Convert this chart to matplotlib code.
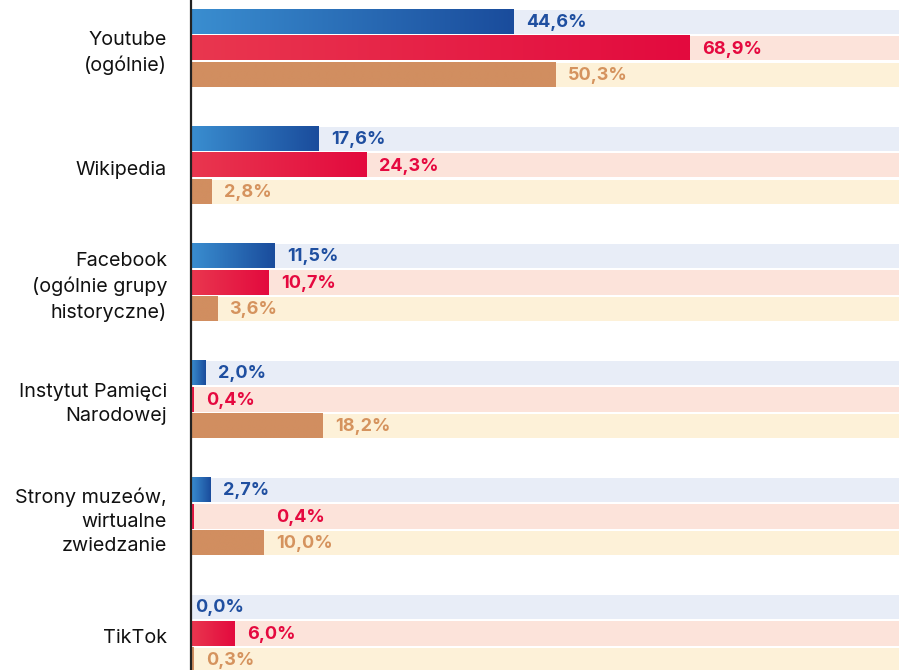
import numpy as np
import matplotlib.pyplot as plt
from matplotlib.colors import LinearSegmentedColormap

categories = ["Youtube\n(ogólnie)", "Wikipedia", "Facebook\n(ogólnie grupy\nhistoryczne)",
              "Instytut Pamięci\nNarodowej", "Strony muzeów,\nwirtualne\nzwiedzanie", "TikTok"]
series_a = [44.6, 17.6, 11.5, 2.0, 2.7, 0.0]
series_b = [68.9, 24.3, 10.7, 0.4, 0.4, 6.0]
series_c = [50.3, 2.8, 3.6, 18.2, 10.0, 0.3]
# one label in the original sits away from its bar
label_anchor_override = {(4, 1): 10.0}

plt.rcParams['font.family'] = ['Inter', 'DejaVu Sans']

bar_cmaps = [
    LinearSegmentedColormap.from_list("blue", ["#3a8ed0", "#1a4c9c"]),
    LinearSegmentedColormap.from_list("red", ["#e9374f", "#e30a3e"]),
    LinearSegmentedColormap.from_list("tan", ["#d18e60", "#d18e60"]),
]
band_colors = ["#e8edf7", "#fce3da", "#fdf1d8"]
text_colors = ["#1f4fa0", "#e5093f", "#d5935e"]

pitch = 4.45
bar_h = 0.92
xmax = 97.8

fig = plt.figure(figsize=(8.99, 6.70), dpi=100)
ax = fig.add_axes([191 / 899, 0, 708 / 899, 1])

grad = np.linspace(0, 1, 256).reshape(1, -1)
all_series = [series_a, series_b, series_c]
for i, cat in enumerate(categories):
    center = i * pitch
    for j, vals in enumerate(all_series):
        y = center + (j - 1)
        v = vals[i]
        ax.barh(y, xmax, height=bar_h, left=0, color=band_colors[j], zorder=1)
        if v > 0:
            ax.imshow(grad, extent=[0, v, y + bar_h / 2, y - bar_h / 2], aspect='auto',
                      cmap=bar_cmaps[j], zorder=2, interpolation='bilinear')
        anchor = label_anchor_override.get((i, j), v)
        off = 9 if v > 0 else 3
        ax.annotate(f"{v:.1f}%".replace(".", ","), xy=(anchor, y + 0.03), xytext=(off, 0),
                    textcoords='offset points', ha='left', va='center',
                    fontsize=13, fontweight='bold', color=text_colors[j], zorder=3)
    ax.text(-24 / 708 * xmax, center + 0.18, cat, ha='right', va='center', fontsize=14.2,
            color='#111111', linespacing=1.42)

ax.set_xlim(0, xmax)
ax.set_ylim(23.64, -1.84)
for s in ['top', 'right', 'bottom']:
    ax.spines[s].set_visible(False)
ax.spines['left'].set_linewidth(1.6)
ax.spines['left'].set_color('#222222')
ax.set_xticks([])
ax.set_yticks([])

fig.savefig("out.png", dpi=100)
